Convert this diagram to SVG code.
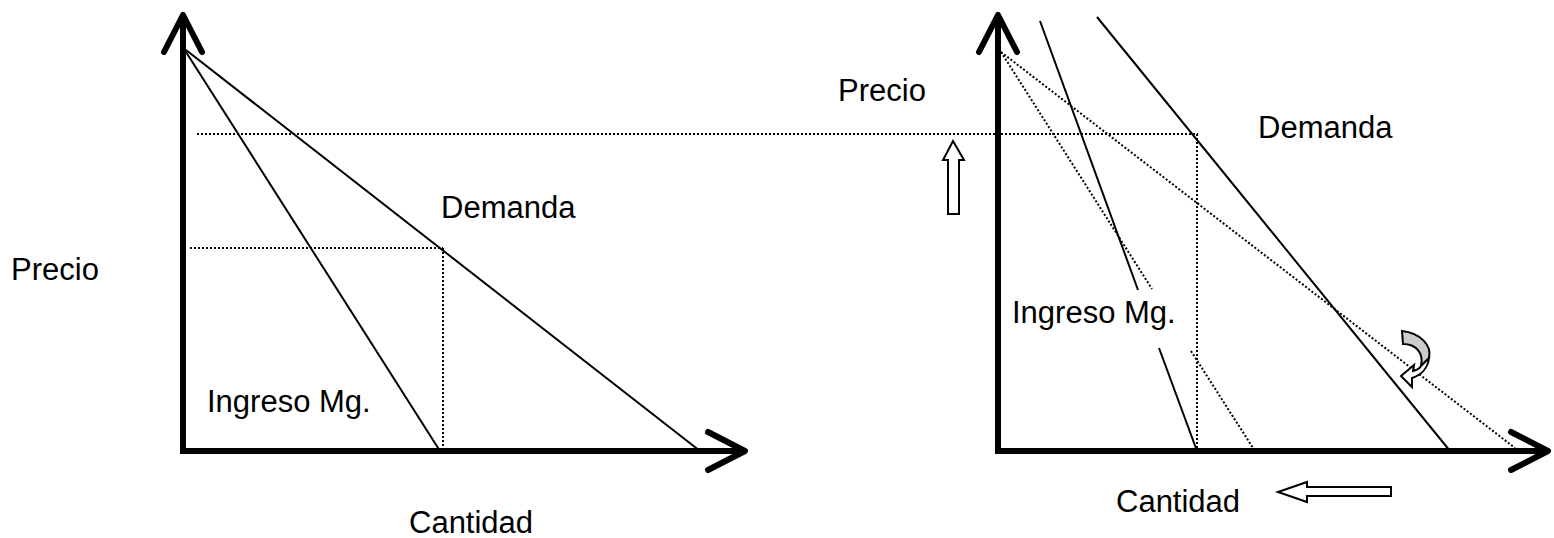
<svg xmlns="http://www.w3.org/2000/svg" width="1554" height="538" viewBox="0 0 1554 538">
<style>
.ax{stroke:#000;stroke-width:6;fill:none;stroke-linecap:round;stroke-linejoin:round}
.ln{stroke:#000;stroke-width:2;fill:none}
.dt{stroke:#000;stroke-width:2;fill:none;stroke-dasharray:2 2}
.t{font-family:"Liberation Sans",Arial,sans-serif;font-size:31px;fill:#000}
.ar{fill:#fff;stroke:#000;stroke-width:2;stroke-linejoin:miter}
</style>
<rect width="1554" height="538" fill="#fff"/>
<g id="left-axes">
<line class="ax" x1="183" y1="16" x2="183" y2="452" style="stroke-linecap:butt"/>
<line class="ax" x1="180" y1="451" x2="742" y2="451" style="stroke-linecap:butt"/>
<polyline class="ax" points="164,52 183,15 202,52"/>
<polyline class="ax" points="708,432 745,451 708,470"/>
</g>
<g id="right-axes">
<line class="ax" x1="998" y1="16" x2="998" y2="452" style="stroke-linecap:butt"/>
<line class="ax" x1="995" y1="451" x2="1545" y2="451" style="stroke-linecap:butt"/>
<polyline class="ax" points="979,52 998,15 1017,52"/>
<polyline class="ax" points="1511,432 1548,451 1511,470"/>
</g>
<g id="connectors">
<line class="ln" x1="186" y1="50" x2="700" y2="451"/>
<line class="ln" x1="186" y1="52" x2="440" y2="451"/>
<line class="dt" x1="190" y1="248" x2="443" y2="248"/>
<line class="dt" x1="443" y1="248" x2="443" y2="449"/>
<line class="dt" x1="197" y1="134" x2="1198" y2="134"/>
<line class="ln" x1="1040" y1="21" x2="1138" y2="290"/>
<line class="ln" x1="1159" y1="348" x2="1197" y2="451"/>
<line class="ln" x1="1097" y1="17" x2="1450" y2="451"/>
<line class="dt" x1="1001" y1="52" x2="1515" y2="448"/>
<line class="dt" x1="1001" y1="52" x2="1152" y2="289"/>
<line class="dt" x1="1191" y1="351" x2="1253" y2="448"/>
<line class="dt" x1="1197" y1="134" x2="1197" y2="449"/>
</g>
<g id="up-arrow">
<polygon class="ar" points="953,141 964,160 959,160 959,214 948,214 948,160 943,160"/>
</g>
<g id="left-arrow">
<polygon class="ar" points="1278,492 1307,482 1307,487 1391,487 1391,496 1307,496 1307,502"/>
</g>
<g id="curved-arrow">
<path d="M1402,331 C1420,333 1432,345 1429,358 L1421,366 C1424,353 1416,344 1403,344 Z" fill="#ccc" stroke="#000" stroke-width="2"/>
<path d="M1429,358 C1428,368 1421,375 1412,378 L1412,387 L1401,376 L1414,365 L1413,371 C1417,370 1420,368 1421,366 Z" fill="#fff" stroke="#000" stroke-width="2" stroke-linejoin="miter"/>
</g>
<g id="labels">
<text class="t" x="11" y="280">Precio</text>
<text class="t" x="441" y="218">Demanda</text>
<text class="t" x="207" y="412">Ingreso Mg.</text>
<text class="t" x="409" y="533">Cantidad</text>
<text class="t" x="838" y="101">Precio</text>
<text class="t" x="1258" y="138">Demanda</text>
<text class="t" x="1012" y="323">Ingreso Mg.</text>
<text class="t" x="1116" y="512">Cantidad</text>
</g>
</svg>
